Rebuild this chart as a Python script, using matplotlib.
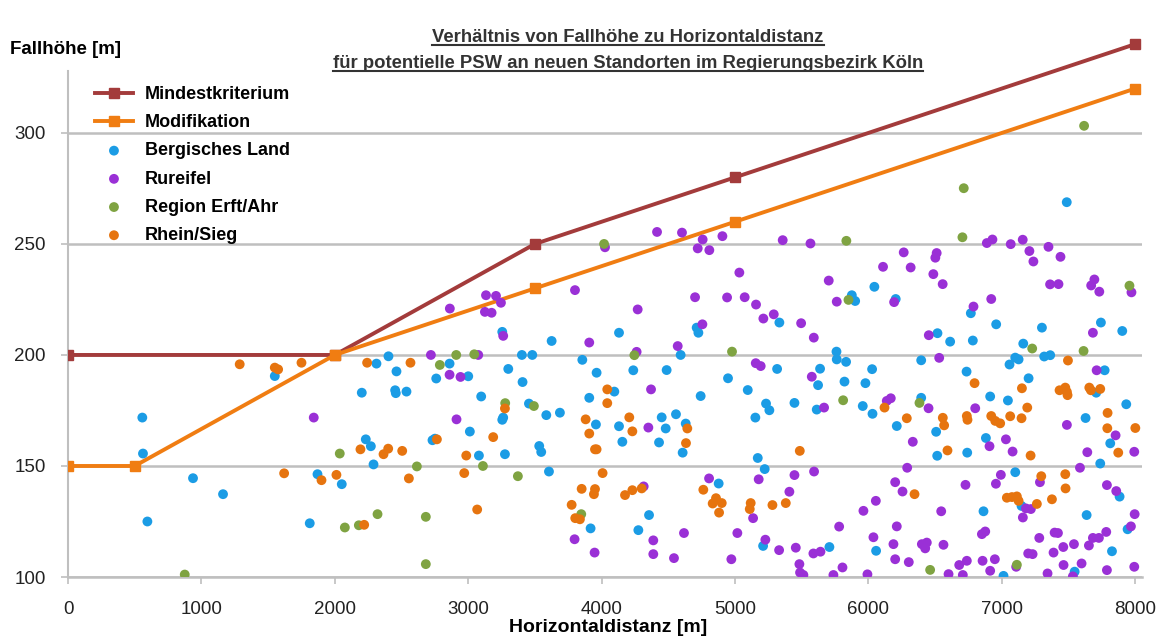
import matplotlib
matplotlib.use("Agg")
import matplotlib.pyplot as plt
from matplotlib.lines import Line2D
import numpy as np

plt.rcParams['font.family'] = ['Liberation Sans', 'DejaVu Sans']

# ---------------- data ----------------
line_x_min = [0, 2000, 3500, 5000, 8000]
line_y_min = [200, 200, 250, 280, 340]
line_x_mod = [0, 500, 2000, 3500, 5000, 8000]
line_y_mod = [150, 150, 200, 230, 260, 320]

bergisch = [
    (1550,190.5),(557,171.8),(562,155.6),(1870,146.3),(937,144.5),(1162,137.3),(595,125),(1812,124.2),
    (2052,141.8),(2202,183),(3255,210.4),(3625,206.3),(3402,200),(3480,200),(2312,196.1),(2402,199.4),
    (2860,196.1),(2462,192.6),(2760,189.4),(3000,190.4),(3300,193.7),(3407,187.8),(3855,197.8),(3962,192),
    (2452,184.1),(2457,182.8),(2537,183.5),(3097,181.3),(3455,178.1),(3585,172.9),(3687,174),(3262,171.8),
    (3255,170.8),(3907,180.7),(3957,168.7),(3012,165.5),(2732,161.6),(2750,162.3),(2232,162),(2270,158.9),
    (3532,159),(3547,156.3),(3080,154.7),(3275,155.3),(2290,150.7),(3605,147.5),(3917,121.9),
    (4130,210),(4712,212.3),(4725,210),(4592,200),(5332,214.6),(5760,201.5),(5762,198),(5900,224.3),
    (5832,196.9),(4237,193.1),(4487,193.2),(4947,189.5),(5315,193.7),(5637,193.8),(5622,186.4),(5820,188),
    (4095,183.5),(4742,181.5),(5095,184.2),(5232,178.1),(5257,175.1),(5445,178.4),(5612,175.4),(4130,167.9),
    (4155,160.9),(4450,171.9),(4480,166.9),(4557,173.3),(4630,169.1),(4430,160.6),(4607,156),(5152,171.8),
    (5170,153.6),(5222,148.6),(4877,142.1),(4355,127.9),(4275,121.1),(5210,114),(5707,113.5),(5875,226.9),
    (6767,218.8),(6957,213.8),(6517,209.8),(6612,206),(6782,206.5),(7300,212.3),(7160,205.1),(7742,214.6),
    (7902,210.8),(6395,197.6),(7100,198.8),(7125,198),(7057,195.7),(7317,199.3),(7362,199.9),(7770,193.1),
    (6027,193.6),(5977,187.3),(6735,192.5),(7200,189.5),(7707,183),(6912,181.3),(7045,179.5),(7932,177.8),
    (6395,180.7),(5957,177),(6030,173.5),(6212,168),(7627,171.6),(7812,160.2),(6507,165.4),(6515,154.6),
    (6740,156),(6880,162.6),(7737,151.1),(7100,147.2),(7882,136.2),(7147,132),(6862,129.6),(7635,127.9),
    (7942,121.5),(6057,111.8),(7012,100.5),(7545,102.4),(7825,111.6),(7486,268.8),(6044,230.7),(6204,225.2),
]

rureifel = [
    (1842,171.8),
    (2862,220.9),(3125,219.4),(3175,219),(3245,223.5),(3262,208.6),(3907,205.6),(2720,200),(3075,200),
    (2860,191.1),(2942,190.1),(2912,171),(3797,117),(3947,111),
    (4025,248.5),(3800,229.2),(3133,226.9),(3208,226.6),
    (4415,255.4),(4602,255.1),(4757,252),(4720,248),(4807,247.2),(4905,253.5),(5357,251.7),(5565,250.2),
    (5032,237.1),(5702,233.5),(4700,226),(4940,225.9),(5072,226),(5157,222.7),(4270,220.5),(5762,224),
    (4262,201.4),(4570,204),(4755,213.8),(5212,216.4),(5290,218.3),(5495,214.3),(5590,207.8),(5155,196.3),
    (5192,195),(5575,190.2),(4370,184.5),(5667,176.3),(4350,167.3),(5177,144),(5445,145.9),(5592,147.5),
    (4805,144.4),(4315,140.8),(5407,138.4),(5135,126.5),(4387,116.5),(4387,110.3),(4542,108.5),(4617,119.8),
    (5017,119.8),(4972,108),(5227,116.8),(5330,112.1),(5455,113.2),(5482,105.8),(5487,102),(5512,100.9),
    (5587,110.6),(5640,111.4),(5780,122.7),(5737,100.9),(5805,104.3),
    (6192,223.8),(6787,221.8),(6920,225.2),(6452,208.9),(7682,210),(6530,198.7),(7710,193.1),(6137,179.3),
    (6167,180.5),(6450,176),(6800,176),(7487,168.5),(7852,163.8),(7992,156.4),(7640,156.2),(6332,160.9),
    (6907,158.9),(7030,162),(7080,156.5),(6290,149.2),(6200,142.7),(6255,138.5),(6055,134.3),(5962,129.8),
    (6727,141.5),(6955,142),(6992,146),(7285,142.7),(7585,149.2),(7787,141.4),(7857,138.7),(7180,130.9),
    (7217,130.6),(7157,126.8),(6545,129.6),(7995,128.3),(7967,122.8),(6212,122.8),(6037,117.9),(6187,114.8),
    (6400,114.8),(6437,115.5),(6425,112.9),(6562,114.5),(6200,108),(6302,106.7),(5992,101.2),(6600,101.3),
    (6680,105.4),(6737,107.3),(6707,100.9),(6850,119.3),(6875,120.5),(6855,107.3),(6912,102.8),(6947,108),
    (7107,104.6),(7197,110.6),(7230,110.3),(7280,117.6),(7342,101.6),(7387,111),(7395,120),(7420,119.8),
    (7460,113.5),(7540,114.8),(7532,100.3),(7597,106.1),(7652,114.2),(7682,117.6),(7727,117.6),(7782,120.3),
    (7787,103.1),(7992,104.6),(7462,105.4),
    (6887,250.4),(6929,252),(7066,249.9),(7156,251.9),(7206,246.8),(7236,242.1),(7349,248.7),(7439,244.2),
    (6264,246.2),(6109,239.7),(6316,239.4),(6511,245.9),(6501,243.8),(6486,236.4),(6556,231.9),(7361,231.8),
    (7424,231.9),(7669,231.3),(7693,234),(7730,228.5),(7971,228.2),
]

erft_ahr = [
    (875,101.1),(2037,155.6),(2075,122.3),(2180,123.3),(2910,200),(3045,200.3),(2787,195.5),(3277,178.3),
    (3492,177),(2615,149.8),(3110,150),(3372,145.4),(3847,128.3),(2320,128.3),(2682,127.1),(2682,105.8),
    (4018,250),(5834,251.4),(5850,224.8),(4245,199.9),(4977,201.5),(5810,179.6),
    (7227,202.9),(7612,201.8),(6382,178.4),(6462,103.2),(7112,105.5),
    (7616,303.2),(6714,275.1),(6704,253),(7956,231.2),
]

rhein_sieg = [
    (1287,195.8),(1550,194.3),(1575,193.5),(1750,196.5),(1620,146.7),(1900,143.6),(2012,146),
    (2192,157.5),(2242,196.5),(2567,196.5),(3275,175.9),(3880,171),(3907,164.6),(3187,163),(2765,162),
    (2400,157.8),(2365,155.3),(2505,156.8),(3950,157.5),(3962,157.5),(2985,154.7),(2970,146.8),(2555,144.4),
    (3850,139.7),(3950,139.6),(3942,137.3),(3775,132.5),(3802,126.5),(3837,126),(3067,130.4),(2220,123.5),
    (4042,184.5),(4042,178.3),(4007,146.8),(4207,171.9),(4230,165.6),(4642,166.9),(4632,160.3),(5485,156.8),
    (4175,136.9),(4230,139.1),(4300,139.9),(4762,139.3),(4857,135.5),(4832,133.1),(4900,133.3),(4880,129),
    (5117,133.3),(5110,130.6),(5280,132.4),(5380,133.3),
    (7495,197.5),(6795,187.3),(7150,185),(7432,184.1),(7475,185.3),(7487,183.4),(7492,181.9),(7655,185.3),
    (7667,184.1),(7737,184.7),(7190,176.3),(6120,176.3),(6287,171.5),(6557,171.7),(6567,168.3),(6737,172.5),
    (6742,170.8),(6920,172.5),(6950,170.3),(6987,169.2),(7062,172.4),(7147,171.5),(7792,173.9),(7790,167),
    (8000,167.1),(7872,156),(6592,157),(7215,154.7),(6345,137.3),(7295,145.4),(7475,146.3),(7477,139.9),
    (7037,135.7),(7075,136),(7112,136.3),(7125,134.3),(7262,132.9),(7375,135),
]

x_ticks = [0, 1000, 2000, 3000, 4000, 5000, 6000, 7000, 8000]
y_ticks = [100, 150, 200, 250, 300]

series_names = ["Mindestkriterium", "Modifikation", "Bergisches Land", "Rureifel",
                "Region Erft/Ahr", "Rhein/Sieg"]

# ---------------- styles ----------------
c_min = "#A33B3B"
c_mod = "#F07D12"
c_blue = "#1B9CE5"
c_purple = "#9A30D6"
c_green = "#7FA342"
c_orange = "#E6740F"
grid_c = "#BFBFBF"

W, H = 1166, 641
fig = plt.figure(figsize=(W/100, H/100), dpi=100)
ax = fig.add_axes([68/W, (H-577)/H, (1142-68)/W, (577-33)/H])
ax.set_xlim(0, 8050)
ax.set_ylim(100, 345)

ax.plot(line_x_min, line_y_min, color=c_min, lw=2.8, marker='s', ms=7, zorder=3,
        label=series_names[0])
ax.plot(line_x_mod, line_y_mod, color=c_mod, lw=2.8, marker='s', ms=7, zorder=3,
        label=series_names[1])

s = 50
for data, col, name in [(bergisch, c_blue, series_names[2]),
                        (rureifel, c_purple, series_names[3]),
                        (erft_ahr, c_green, series_names[4]),
                        (rhein_sieg, c_orange, series_names[5])]:
    arr = np.array(data)
    ax.scatter(arr[:, 0], arr[:, 1], s=s, color=col, edgecolors='none', zorder=4, label=name)

ax.set_xticks(x_ticks)
ax.set_yticks(y_ticks)
ax.yaxis.grid(True, color=grid_c, lw=1.8, zorder=0)
ax.set_axisbelow(True)
for sp in ['top', 'right']:
    ax.spines[sp].set_visible(False)
ax.spines['left'].set_bounds(100, 328)
ax.spines['left'].set_color(grid_c)
ax.spines['bottom'].set_color(grid_c)
ax.spines['left'].set_linewidth(1.5)
ax.spines['bottom'].set_linewidth(1.8)
ax.tick_params(axis='both', colors=grid_c, length=5, width=1.2, labelcolor='#222222', labelsize=13.5)
ax.tick_params(axis='x', pad=12)
ax.tick_params(axis='y', pad=11)

# legend
leg = ax.legend(loc='upper left', bbox_to_anchor=(95/W, 1-86/H), bbox_transform=fig.transFigure,
                frameon=False, prop={'weight': 'bold', 'size': 13}, handlelength=2.1,
                handletextpad=0.65, labelspacing=0.62, borderpad=0, borderaxespad=0,
                markerscale=1.0, scatterpoints=1)

# axis labels
fig.text(10/W, 1-50/H, "Fallhöhe [m]", fontsize=13.5, fontweight='bold', ha='left', va='center')
fig.text(608/W, 1-628/H, "Horizontaldistanz [m]", fontsize=14, fontweight='bold', ha='center', va='center')

# title with underline
t1 = fig.text(628/W, 1-37/H, "Verhältnis von Fallhöhe zu Horizontaldistanz", fontsize=13.3,
              fontweight='bold', ha='center', va='center', color='#333333')
t2 = fig.text(628/W, 1-63/H, "für potentielle PSW an neuen Standorten im Regierungsbezirk Köln",
              fontsize=13.3, fontweight='bold', ha='center', va='center', color='#333333')
fig.canvas.draw()
r = fig.canvas.get_renderer()
for t in (t1, t2):
    bb = t.get_window_extent(r).transformed(fig.transFigure.inverted())
    y = bb.y0 + 0.5/H
    fig.add_artist(Line2D([bb.x0, bb.x1], [y, y], transform=fig.transFigure,
                          color='#333333', lw=1.5))

fig.savefig("out.png", dpi=100)
